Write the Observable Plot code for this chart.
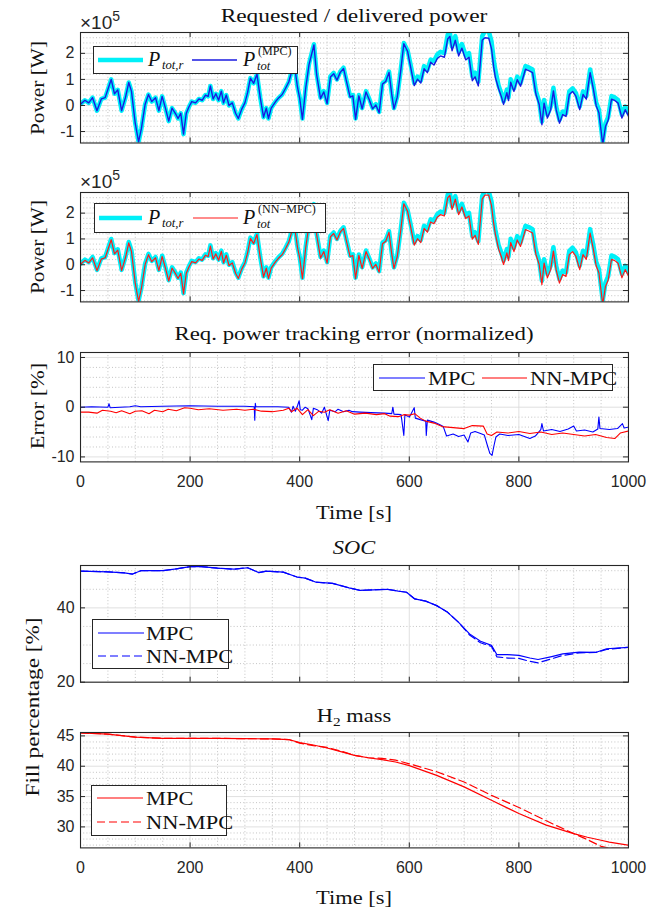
<!DOCTYPE html>
<html><head><meta charset="utf-8">
<script src="https://cdn.jsdelivr.net/npm/d3@7"></script>
<script src="https://cdn.jsdelivr.net/npm/@observablehq/plot@0.6"></script>
<style>
body{margin:0;background:#fff}
#fig{position:relative;width:670px;height:915px;background:#fff;overflow:hidden}
.t{position:absolute;white-space:nowrap;font-family:"Liberation Serif","Times New Roman",serif;color:#111;line-height:1;font-size:19px}
.s{position:absolute;white-space:nowrap;font-family:"Liberation Sans",Arial,sans-serif;color:#262626;line-height:1;font-size:16px}
.box{position:absolute;border:1px solid #262626;background:#fff;box-sizing:border-box}
</style></head>
<body><div id="fig"></div>
<script>
// ---------- data ----------
const xMajor=[0,200,400,600,800,1000];
const xMinor=[50,100,150,250,300,350,450,500,550,650,700,750,850,900,950];

const powerTime=[0,8,15,22,30,38,45,56,62,68,75,82,88,93,100,106,111,118,124,130,137,143,149,155,161,167,173,178,183,188,193,198,203,210,216,222,228,233,237,242,247,252,257,261,266,271,277,283,288,294,300,305,310,316,322,328,334,339,343,348,356,362,368,374,380,384,388,392,396,400,405,411,417,423,426,431,438,444,450,456,462,468,474,480,486,492,497,502,508,514,521,527,533,539,545,551,557,563,568,572,578,584,590,597,603,609,615,621,627,633,639,645,651,657,664,670,674,678,684,690,696,703,709,715,720,726,733,738,745,750,754,757,763,768,772,778,781,785,791,797,803,812,818,825,831,837,842,846,852,858,863,868,874,880,886,892,898,904,911,917,923,930,936,941,946,953,958,963,969,975,981,988,994,1000];
// requested power [x1e5 W]
const powerReq=[0.05,0.2,0.1,0.3,-0.2,0.25,0.3,1.0,0.45,0.6,-0.2,0.3,0.88,0.55,-0.7,-1.4,-0.9,0.05,0.42,0.15,0.3,-0.2,0.35,-0.1,-0.6,-0.1,-0.3,-0.5,-0.3,-1.1,-0.3,-0.05,0.15,0.1,0.25,0.2,0.4,0.35,0.75,0.25,0.45,0.2,0.55,0.1,0.4,0.0,0.1,-0.3,-0.5,-0.15,0.1,0.5,1.05,0.85,1.2,0.3,-0.45,-0.1,-0.5,-0.1,0.15,0.3,0.42,0.65,0.9,1.2,1.5,1.3,0.7,0.3,-0.5,0.7,1.6,2.1,2.35,1.2,0.3,0.55,0.1,1.12,1.25,1.0,1.3,1.45,0.9,0.35,0.4,-0.5,0.4,-0.1,0.55,0.25,-0.1,0.05,-0.25,0.85,0.95,1.3,0.45,-0.1,0.35,1.3,2.4,2.1,1.51,0.86,1.11,0.96,1.51,1.36,1.76,1.71,1.96,2.06,2.01,2.71,2.8,2.26,2.66,2.06,2.36,1.91,2.01,1.11,1.26,0.91,2.66,2.85,2.85,2.46,1.76,1.36,0.76,0.46,0.16,0.61,0.31,1.01,0.66,1.11,0.86,1.51,1.46,1.38,0.56,0.16,-0.62,0.21,-0.36,-0.04,0.68,-0.04,-0.56,-0.23,-0.3,0.54,0.66,0.48,-0.04,0.54,0.36,1.38,0.74,0.11,-0.16,-1.39,-0.69,-0.44,0.36,0.31,0.21,-0.36,-0.04,-0.29];
// delivered power, MPC
const powerMPC=[0.05,0.2,0.1,0.3,-0.2,0.25,0.3,1.0,0.45,0.6,-0.2,0.3,0.88,0.55,-0.7,-1.4,-0.9,0.05,0.42,0.15,0.3,-0.2,0.35,-0.1,-0.6,-0.1,-0.3,-0.5,-0.3,-1.1,-0.3,-0.05,0.15,0.1,0.25,0.2,0.4,0.35,0.75,0.25,0.45,0.2,0.55,0.1,0.4,0.0,0.1,-0.3,-0.5,-0.15,0.1,0.5,1.05,0.85,1.2,0.3,-0.45,-0.1,-0.5,-0.1,0.15,0.3,0.42,0.65,0.9,1.2,1.5,1.3,0.7,0.27,-0.53,0.67,1.57,2.07,2.32,1.17,0.27,0.52,0.07,1.09,1.22,0.97,1.27,1.42,0.87,0.32,0.37,-0.53,0.37,-0.13,0.52,0.22,-0.13,0.02,-0.28,0.82,0.92,1.27,0.42,-0.13,0.32,1.27,2.37,2.07,1.41,0.76,1.01,0.86,1.41,1.26,1.66,1.55,1.8,1.9,1.85,2.55,2.65,2.1,2.5,1.9,2.2,1.75,1.85,0.95,1.1,0.75,2.5,2.6,2.58,2.18,1.48,1.08,0.64,0.34,0.04,0.49,0.19,0.89,0.54,0.99,0.74,1.39,1.34,1.26,0.44,0.04,-0.74,0.09,-0.48,-0.16,0.56,-0.16,-0.68,-0.35,-0.42,0.42,0.54,0.36,-0.16,0.42,0.24,1.26,0.62,-0.01,-0.28,-1.5,-0.81,-0.56,0.24,0.19,0.09,-0.48,-0.16,-0.41];
// delivered power, NN-MPC
const powerNN=[0.02,0.17,0.07,0.27,-0.23,0.22,0.27,0.97,0.42,0.57,-0.23,0.27,0.85,0.52,-0.73,-1.43,-0.93,0.02,0.39,0.12,0.27,-0.23,0.32,-0.13,-0.63,-0.13,-0.33,-0.53,-0.33,-1.13,-0.33,-0.08,0.12,0.07,0.22,0.17,0.37,0.32,0.72,0.22,0.42,0.17,0.52,0.07,0.37,-0.03,0.07,-0.33,-0.53,-0.18,0.07,0.47,1.02,0.82,1.17,0.27,-0.48,-0.13,-0.53,-0.13,0.12,0.27,0.39,0.62,0.87,1.17,1.47,1.27,0.67,0.26,-0.54,0.66,1.56,2.06,2.31,1.16,0.26,0.51,0.06,1.08,1.21,0.96,1.26,1.41,0.86,0.31,0.36,-0.54,0.36,-0.14,0.51,0.21,-0.14,0.01,-0.29,0.81,0.91,1.26,0.41,-0.14,0.31,1.26,2.36,2.06,1.41,0.76,1.01,0.86,1.41,1.26,1.66,1.59,1.84,1.94,1.89,2.59,2.69,2.14,2.54,1.94,2.24,1.79,1.89,0.99,1.14,0.79,2.54,2.7,2.7,2.3,1.6,1.2,0.61,0.31,0.01,0.46,0.16,0.86,0.51,0.96,0.71,1.36,1.31,1.23,0.41,0.01,-0.77,0.06,-0.51,-0.19,0.53,-0.19,-0.71,-0.38,-0.45,0.39,0.51,0.33,-0.19,0.39,0.21,1.23,0.59,-0.04,-0.31,-1.54,-0.84,-0.59,0.21,0.16,0.06,-0.51,-0.19,-0.44];

const errTimeMPC=[0,20,50,52,54,90,100,110,150,200,250,300,317,318,319,320,360,380,385,388,392,396,399,401,405,410,415,422,425,432,440,445,452,455,465,470,480,490,496,510,530,555,568,570,572,585,590,592,600,609,611,620,630,631,633,645,655,662,668,680,690,700,707,712,720,730,737,742,747,751,755,758,765,780,800,810,820,830,840,842,845,860,875,890,900,905,920,935,944,946,948,965,980,989,992,1000];
const errMPC=[0.0,0.1,0.0,0.7,-0.1,0.1,0.3,0.1,0.2,0.3,0.2,0.2,0.1,-2.6,0.8,0.1,0.1,0.0,-1.0,0.2,-0.8,0.3,1.3,-0.5,-0.6,0.0,-0.3,-2.5,-0.2,-0.5,-1.2,0.0,-2.7,-0.6,-0.9,-0.4,-0.9,-0.6,-0.9,-1.0,-1.1,-1.2,-1.3,0.0,-1.4,-1.5,-5.7,-1.5,-2.0,-0.1,-2.2,-2.5,-2.8,-5.7,-2.6,-3.0,-3.5,-3.9,-5.8,-5.4,-5.9,-5.6,-7.0,-5.2,-4.9,-5.3,-5.6,-7.5,-9.3,-9.7,-7.5,-6.0,-5.4,-5.7,-5.5,-5.9,-6.3,-5.8,-4.5,-3.3,-4.8,-4.5,-4.9,-4.4,-3.8,-4.8,-4.6,-5.0,-4.4,-2.0,-4.3,-4.5,-4.3,-3.3,-4.2,-4.0];
const errTimeNN=[0,15,30,40,55,65,75,90,100,112,125,135,150,160,175,190,200,215,235,260,285,300,315,330,350,370,380,385,395,405,415,425,435,445,455,470,485,500,520,540,555,565,580,590,600,610,620,630,645,660,680,700,715,735,742,750,760,780,800,820,840,860,880,900,920,940,960,975,985,1000];
const errNN=[-1.0,-1.0,-1.2,-0.6,-0.8,-1.1,-0.7,-1.3,-0.8,-0.7,-1.3,-0.6,-0.9,-0.4,-0.7,-0.1,-0.2,-0.5,-0.3,-0.6,-0.4,-0.6,-0.4,-0.8,-0.9,-0.6,-0.2,-0.9,-0.2,-1.5,-0.5,-1.7,-0.8,-1.0,-0.5,-1.2,-0.7,-1.4,-1.2,-1.5,-1.3,-1.8,-1.9,-1.5,-1.6,-1.3,-2.2,-2.8,-3.2,-3.9,-4.1,-4.3,-3.7,-3.8,-5.4,-5.7,-5.0,-5.2,-4.9,-5.3,-5.0,-5.5,-5.2,-5.5,-5.8,-5.5,-6.1,-6.3,-5.2,-4.8];

const socTime=[0,50,80,95,110,150,175,200,220,250,280,305,325,340,370,395,410,430,460,490,510,560,580,595,610,630,650,670,690,710,730,750,760,780,800,820,835,860,880,910,940,960,1000];
const socMPC=[49.9,49.7,49.4,49.1,50.0,50.0,50.5,51.1,51.1,50.7,50.4,50.8,49.5,49.9,49.6,48.3,48.0,46.9,46.6,45.4,44.7,45.0,44.5,44.2,42.4,41.8,40.6,38.8,36.1,33.0,31.0,29.9,27.4,27.4,27.2,26.5,26.1,26.9,27.6,28.1,28.0,29.0,29.4];
const socNN=[49.9,49.7,49.4,49.1,50.0,50.0,50.5,51.1,51.1,50.7,50.4,50.8,49.5,49.9,49.6,48.3,48.0,46.9,46.6,45.4,44.7,45.0,44.5,44.2,42.4,41.8,40.6,38.8,36.1,32.7,30.6,29.6,26.8,26.5,26.4,25.6,25.2,26.3,27.2,27.9,28.0,28.8,29.4];

const h2Time=[0,50,100,150,200,250,300,350,380,400,425,450,475,500,525,550,575,600,650,700,750,800,850,900,925,950,965,1000];
const h2MPC=[45.5,45.3,44.8,44.6,44.6,44.6,44.55,44.5,44.4,43.9,43.5,43.0,42.4,41.8,41.4,41.1,40.7,40.1,38.5,36.6,34.4,32.2,30.3,28.9,28.3,27.8,27.5,27.0];
const h2NN=[45.5,45.3,44.8,44.6,44.6,44.6,44.55,44.5,44.4,43.8,43.4,43.1,42.5,41.8,41.4,41.3,41.0,40.4,39.1,37.4,35.2,33.2,31.0,28.9,27.9,26.8,26.5,26.5];

// ---------- layout ----------
const fig=document.getElementById("fig");
const W=670, ML=80, MR=42, PW=W-ML-MR;
const toRows=(ts,vs)=>ts.map((t,i)=>({t,v:vs[i]}));

function panel(o){
  const mt=10, mb=o.mb||10;
  const marks=[
    Plot.ruleX(xMinor,{stroke:"#bdbdbd",strokeDasharray:"1,2.2",strokeWidth:0.9}),
    Plot.ruleY(o.yMinor,{stroke:"#bdbdbd",strokeDasharray:"1,2.2",strokeWidth:0.9}),
    Plot.ruleX(xMajor,{stroke:"#dcdcdc",strokeWidth:0.9}),
    Plot.ruleY(o.yMajor,{stroke:"#dcdcdc",strokeWidth:0.9}),
    ...o.marks,
    Plot.tickY(o.yMajor,{y:d=>d,insetRight:PW-5,stroke:"#262626"}),
    Plot.tickY(o.yMajor,{y:d=>d,insetLeft:PW-5,stroke:"#262626"}),
    Plot.tickX(xMajor,{x:d=>d,insetTop:o.h-5,stroke:"#262626"}),
    Plot.tickX(xMajor,{x:d=>d,insetBottom:o.h-5,stroke:"#262626"}),
    Plot.frame({stroke:"#262626",strokeWidth:1.1}),
    Plot.axisY({ticks:o.yMajor,tickSize:0,tickPadding:6,tickFormat:d=>String(d),label:null,fontSize:16,fill:"#262626"})
  ];
  if(o.xLabels) marks.push(Plot.axisX({ticks:xMajor,tickSize:0,tickPadding:14,tickFormat:d=>String(d),label:null,fontSize:16,fill:"#262626"}));
  const svg=Plot.plot({
    width:W,height:mt+o.h+mb,marginLeft:ML,marginRight:MR,marginTop:mt,marginBottom:mb,
    x:{domain:[0,1000],axis:o.xLabels?undefined:null},
    y:{domain:o.yDomain,axis:null},
    style:{fontFamily:"'Liberation Sans',Arial,sans-serif",fontSize:"16px",color:"#262626",background:"transparent",overflow:"visible"},
    marks
  });
  svg.style.position="absolute";svg.style.left="0px";svg.style.top=(o.top-mt)+"px";
  fig.appendChild(svg);
}

function text(html,x,y,o={}){
  const d=document.createElement("div");
  d.className=o.sans?"s":"t";
  d.innerHTML=html;
  d.style.left=x+"px";d.style.top=y+"px";
  if(o.size) d.style.fontSize=o.size+"px";
  if(o.italic) d.style.fontStyle="italic";
  const sx=o.sans?1:(o.sx||1.18);
  if(o.left){d.style.transformOrigin="0 50%";d.style.transform=`translate(0,-50%) scaleX(${sx})`;}
  else d.style.transform=`translate(-50%,-50%)${o.rot?" rotate(-90deg)":""} scaleX(${sx})`;
  fig.appendChild(d);
}
function box(x,y,w,h){
  const d=document.createElement("div");d.className="box";
  Object.assign(d.style,{left:x+"px",top:y+"px",width:w+"px",height:h+"px"});
  fig.appendChild(d);
}
function sample(x1,x2,y,color,width,dash){
  const s=document.createElementNS("http://www.w3.org/2000/svg","svg");
  s.setAttribute("width",x2-x1);s.setAttribute("height",10);
  Object.assign(s.style,{position:"absolute",left:x1+"px",top:(y-5)+"px",overflow:"visible"});
  s.innerHTML=`<line x1="0" y1="5" x2="${x2-x1}" y2="5" stroke="${color}" stroke-width="${width}" ${dash?`stroke-dasharray="${dash}"`:""}/>`;
  fig.appendChild(s);
}
// math legend entries built from separate, non-overlapping text pieces
function Pr(x,y){
  text("P",x,y,{left:true,italic:true,size:20,sx:1});
  text("tot,r",x+14,y+6,{left:true,italic:true,size:12,sx:1.05});
}
function Ptot(x,y,sup){
  text("P",x,y,{left:true,italic:true,size:20,sx:1});
  text(sup,x+15,y-7.5,{left:true,size:11.5,sx:1.05});
  text("tot",x+14,y+6.5,{left:true,italic:true,size:12,sx:1.05});
}

const CYAN="#00f0f8", BLUE="#1a1ae0", RED="#ff1a1a", EB="#0000ff", ER="#ff0000";

// Panel 1
panel({top:32,h:110.5,yDomain:[-1.44,2.8],yMajor:[-1,0,1,2],
  yMinor:[-1.4,-1.2,-0.8,-0.6,-0.4,-0.2,0.2,0.4,0.6,0.8,1.2,1.4,1.6,1.8,2.2,2.4,2.6],
  marks:[
    Plot.line(toRows(powerTime,powerReq),{x:"t",y:"v",stroke:CYAN,strokeWidth:4.5,clip:true,strokeLinejoin:"round"}),
    Plot.line(toRows(powerTime,powerMPC),{x:"t",y:"v",stroke:BLUE,strokeWidth:1.4,clip:true})
  ]});
// Panel 2
panel({top:192.3,h:109.4,yDomain:[-1.44,2.8],yMajor:[-1,0,1,2],
  yMinor:[-1.4,-1.2,-0.8,-0.6,-0.4,-0.2,0.2,0.4,0.6,0.8,1.2,1.4,1.6,1.8,2.2,2.4,2.6],
  marks:[
    Plot.line(toRows(powerTime,powerReq),{x:"t",y:"v",stroke:CYAN,strokeWidth:4.5,clip:true,strokeLinejoin:"round"}),
    Plot.line(toRows(powerTime,powerNN),{x:"t",y:"v",stroke:RED,strokeWidth:1.2,clip:true})
  ]});
// Panel 3
panel({top:352.3,h:109.4,mb:40,xLabels:true,yDomain:[-11,11],yMajor:[-10,0,10],
  yMinor:[-8,-6,-4,-2,2,4,6,8],
  marks:[
    Plot.line(toRows(errTimeMPC,errMPC),{x:"t",y:"v",stroke:EB,strokeWidth:1.1,clip:true}),
    Plot.line(toRows(errTimeNN,errNN),{x:"t",y:"v",stroke:ER,strokeWidth:1.1,clip:true})
  ]});
// Panel 4
panel({top:565,h:116.7,yDomain:[20,51.4],yMajor:[20,40],yMinor:[25,30,35,45,50],
  marks:[
    Plot.line(toRows(socTime,socMPC),{x:"t",y:"v",stroke:EB,strokeWidth:1.2,clip:true}),
    Plot.line(toRows(socTime,socNN),{x:"t",y:"v",stroke:EB,strokeWidth:1.2,strokeDasharray:"8,4",clip:true})
  ]});
// Panel 5
panel({top:732.3,h:115.4,mb:40,xLabels:true,yDomain:[26.54,45.56],yMajor:[30,35,40,45],
  yMinor:[27,28,29,31,32,33,34,36,37,38,39,41,42,43,44],
  marks:[
    Plot.line(toRows(h2Time,h2MPC),{x:"t",y:"v",stroke:ER,strokeWidth:1.2,clip:true}),
    Plot.line(toRows(h2Time,h2NN),{x:"t",y:"v",stroke:ER,strokeWidth:1.2,strokeDasharray:"8,4",clip:true})
  ]});

// titles & labels
text("Requested / delivered power",354,15,{sx:1.23});
text("Req. power tracking error (normalized)",354,333,{sx:1.2});
text("SOC",354,547,{italic:true});
text("H<span style='font-size:13px;position:relative;top:4px'>2</span> mass",354,715);
text("Time [s]",354,512);
text("Time [s]",354,897);
text("Power [W]",37,88,{rot:true,sx:1.12});
text("Power [W]",37,247,{rot:true,sx:1.12});
text("Error [%]",37,406,{rot:true});
text("Fill percentage [%]",32,707,{rot:true,sx:1.22});
text("&times;10<span style='font-size:14px;position:relative;top:-8px'>5</span>",80,22,{sans:true,left:true,size:19});
text("&times;10<span style='font-size:14px;position:relative;top:-8px'>5</span>",80,181,{sans:true,left:true,size:19});

// legends
box(93,46,205,28);
sample(98,143,60,CYAN,4.5);Pr(148,59);
sample(192,237,60,BLUE,1.4);Ptot(243,59,"(MPC)");

box(93.5,203,232,30);
sample(99,142,218,CYAN,4.5);Pr(148,217);
sample(193,238,218,RED,1.2);Ptot(243,217,"(NN&minus;MPC)");

box(373,364,240,27);
sample(379,425,377.5,EB,1.1);text("MPC",428,377.5,{left:true});
sample(482,527,377.5,ER,1.1);text("NN-MPC",530,377.5,{left:true});

box(92,619,137,50);
sample(98,144,633,EB,1.2);text("MPC",146,633,{left:true});
sample(98,144,656,EB,1.2,"8,4");text("NN-MPC",146,656,{left:true});

box(91,785,136,51);
sample(97,143,798,ER,1.2);text("MPC",146,798,{left:true});
sample(97,143,822,ER,1.2,"8,4");text("NN-MPC",146,822,{left:true});
</script>
</body></html>
